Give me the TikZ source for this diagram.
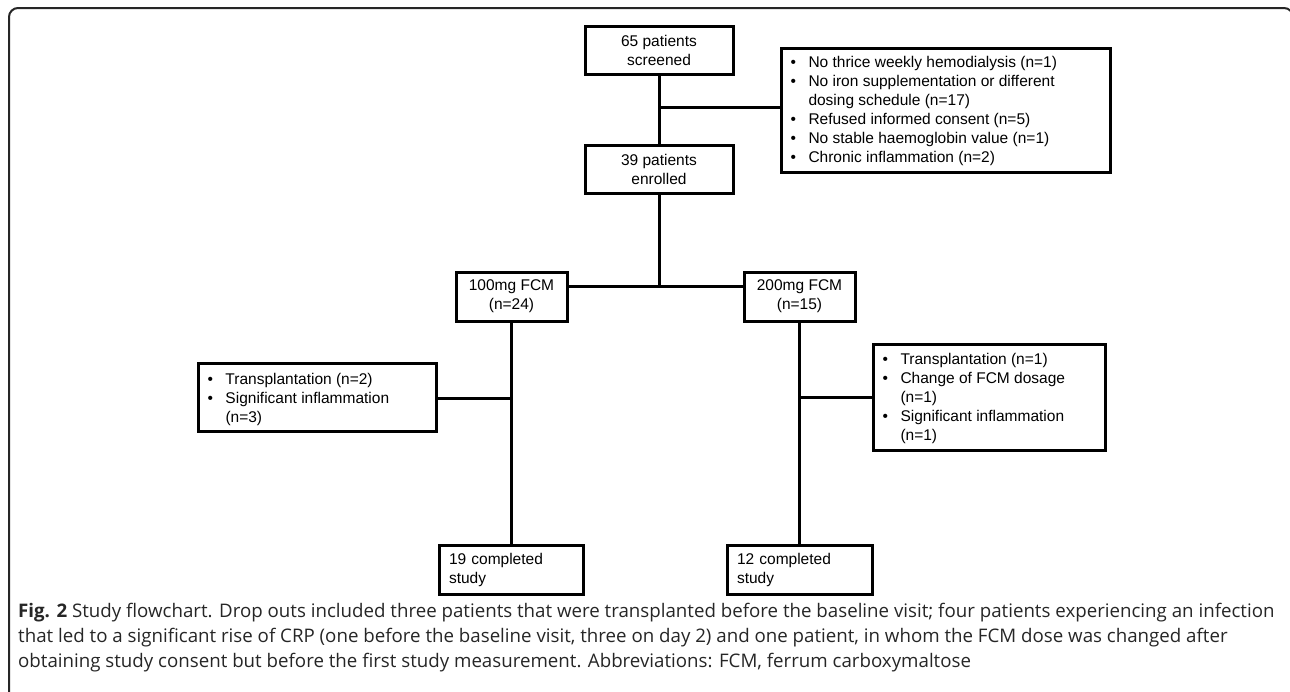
\documentclass[tikz,border=0pt]{standalone}
\usepackage{fontspec}
\setmainfont{Liberation Sans}
\newfontfamily\capfont{Open Sans}
\newcommand{\bl}{\makebox[18pt][l]{•}}
\newcommand{\ind}{\hspace*{18pt}}
\newcommand{\exbox}[4]{\parbox[c][#2][t]{#1}{\raggedright\leftskip=9.5pt\rule{0pt}{#3}#4}}
\begin{document}
\begin{tikzpicture}[x=1pt,y=-1pt,
  box/.style={draw, line width=3pt, inner sep=0pt, outer sep=0pt, rectangle,
    font=\fontsize{15.5}{19}\selectfont},
  cbox/.style={box, align=center, minimum height=49pt},
  lbox/.style={box, anchor=north west, align=left, minimum height=49pt, inner xsep=10pt},
  ebox/.style={box, anchor=north west},
  conn/.style={line width=3pt}]
\useasboundingbox (0,0) rectangle (1290,691);
\begin{scope}
  \clip (0,0) rectangle (1290,691);
  \draw[line width=2pt, rounded corners=9pt, black!85] (9,8) rectangle (1293,720);
\end{scope}

\node[cbox, minimum width=148pt, minimum height=48pt] (scr) at (659,50) {65 patients\\screened};
\node[cbox, minimum width=148pt, minimum height=48pt] (enr) at (659,169) {39 patients\\enrolled};
\node[ebox] (ex1) at (781,48) {\exbox{329pt}{124pt}{19.5pt}{%
  \bl No thrice weekly hemodialysis (n=1)\\
  \bl No iron supplementation or different\\
  \ind dosing schedule (n=17)\\
  \bl Refused informed consent (n=5)\\
  \bl No stable haemoglobin value (n=1)\\
  \bl Chronic inflammation (n=2)}};

\node[cbox, minimum width=111pt] (a100) at (511.5,296.5) {100mg FCM\\(n=24)};
\node[cbox, minimum width=111pt] (a200) at (799.5,296.5) {200mg FCM\\(n=15)};

\node[ebox] (exL) at (198,363) {\exbox{238pt}{68pt}{21.5pt}{%
  \bl Transplantation (n=2)\\
  \bl Significant inflammation\\
  \ind (n=3)}};
\node[ebox] (exR) at (873,344) {\exbox{232pt}{106pt}{20.5pt}{%
  \bl Transplantation (n=1)\\
  \bl Change of FCM dosage\\
  \ind (n=1)\\
  \bl Significant inflammation\\
  \ind (n=1)}};

\node[lbox, text width=124pt] (c19) at (439,545) {19 completed\\study};
\node[lbox, text width=125pt] (c12) at (727,545) {12 completed\\study};

\coordinate (j1) at (659,107);
\coordinate (j2) at (659,286);
\coordinate (j3) at (511.5,398);
\coordinate (j4) at (799.5,397);
\draw[conn] (scr) -- (enr);
\draw[conn] (j1) -- (j1 -| ex1.west);
\draw[conn] (enr) -- (j2);
\draw[conn] (a100.east |- j2) -- (a200.west |- j2);
\draw[conn] (a100.south) -- (a100.south |- c19.north);
\draw[conn] (j3) -- (j3 -| exL.east);
\draw[conn] (a200.south) -- (a200.south |- c12.north);
\draw[conn] (j4) -- (j4 -| exR.west);

\node[anchor=north west, inner sep=0pt, align=left, text=black!85,
  font=\capfont\fontsize{18.7}{25}\selectfont] (cap) at (18,603)
  {\textbf{Fig. 2} Study flowchart. Drop outs included three patients that were transplanted before the baseline visit; four patients experiencing an infection\\
   that led to a significant rise of CRP (one before the baseline visit, three on day 2) and one patient, in whom the FCM dose was changed after\\
   obtaining study consent but before the first study measurement. Abbreviations: FCM, ferrum carboxymaltose};
\end{tikzpicture}
\end{document}
